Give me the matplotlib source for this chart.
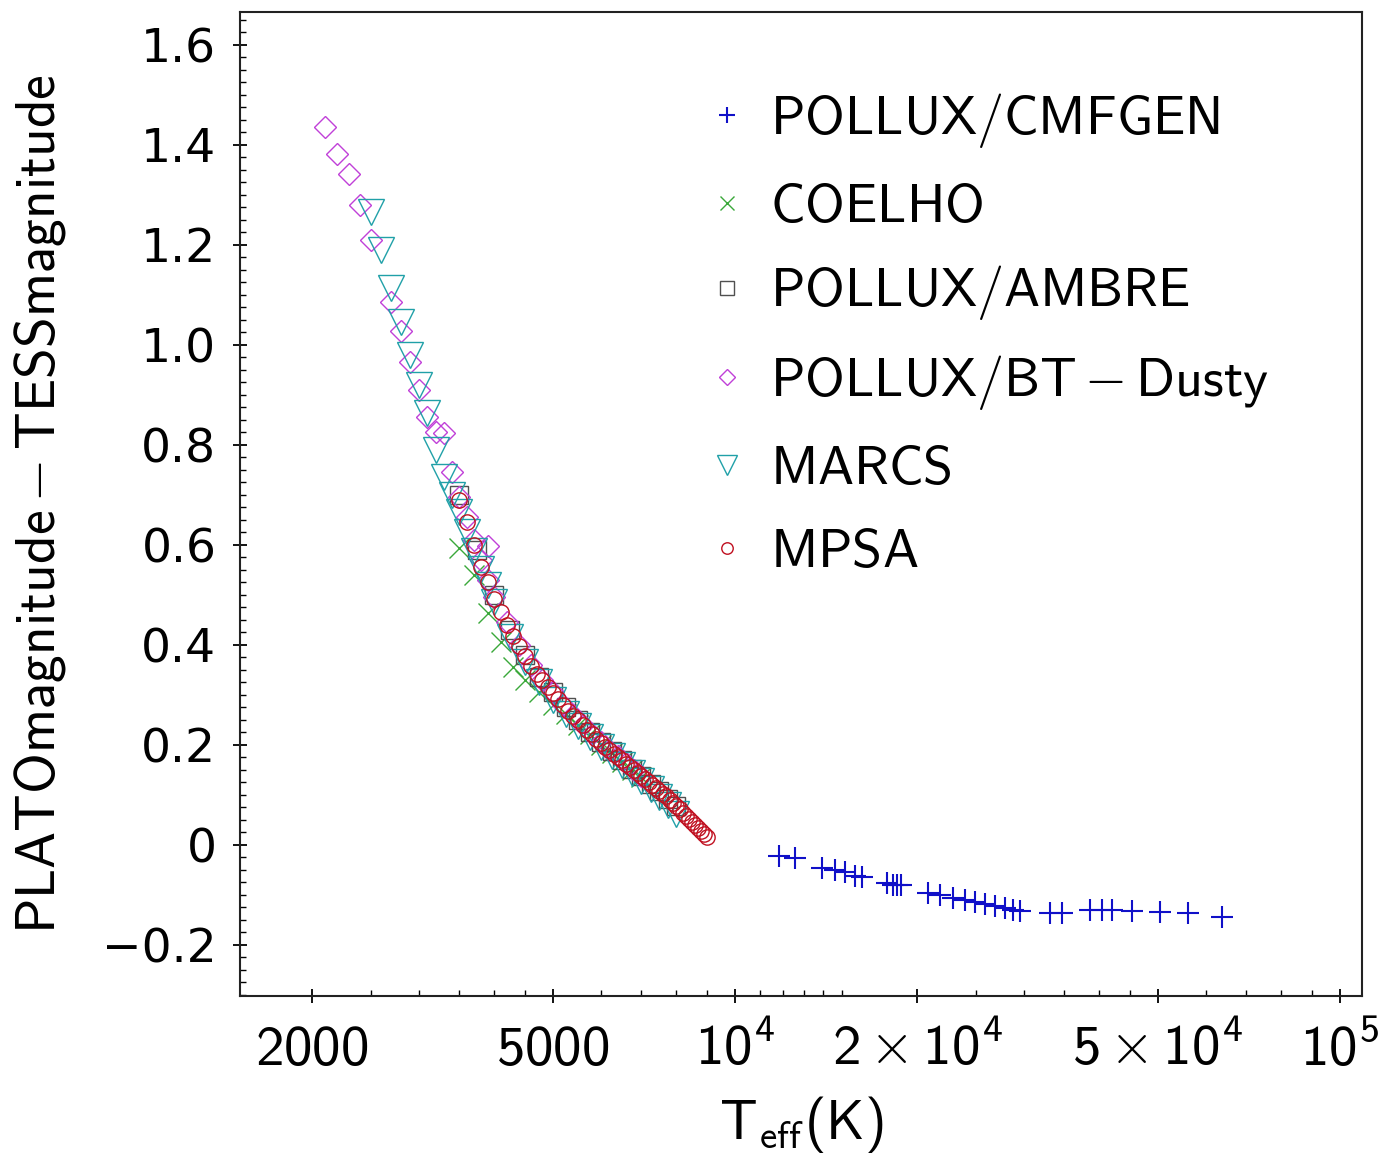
import numpy as np
import matplotlib
matplotlib.use("Agg")
import matplotlib.pyplot as plt
from matplotlib.ticker import FixedLocator, FixedFormatter

plt.rcParams['mathtext.fontset'] = 'custom'
plt.rcParams['mathtext.rm'] = 'cmss10'
plt.rcParams['mathtext.sf'] = 'cmss10'
plt.rcParams['mathtext.it'] = 'cmss10'
plt.rcParams['mathtext.bf'] = 'cmss10'

# POLLUX/CMFGEN
t_cmfgen = [11820, 12570, 13930, 14640, 15200, 15790, 16220, 17830, 18250, 18530,
            18810, 20840, 21830, 22930, 24000, 24930, 25890, 26900, 27940, 28810,
            29590, 33170, 34720, 38630, 40430, 42000, 45310, 50400, 56080, 63830]
y_cmfgen = [-0.022, -0.026, -0.046, -0.050, -0.054, -0.062, -0.064, -0.076, -0.080, -0.080,
            -0.080, -0.096, -0.100, -0.106, -0.110, -0.114, -0.118, -0.122, -0.126, -0.130,
            -0.132, -0.136, -0.136, -0.130, -0.130, -0.130, -0.132, -0.134, -0.136, -0.144]

# COELHO
t_coelho = [3500, 3700, 3900, 4100, 4300, 4500, 4750, 5000, 5250, 5500,
            5750, 6000, 6250, 6500, 6750, 7000]
y_coelho = [0.594, 0.540, 0.464, 0.406, 0.356, 0.330, 0.305, 0.280, 0.262, 0.240,
            0.222, 0.200, 0.183, 0.166, 0.150, 0.135]

# POLLUX/AMBRE
t_ambre = [3500, 3750, 4000, 4250, 4500, 4750, 5000, 5250, 5500, 5750,
           6000, 6250, 6500, 6750, 7000, 7250, 7500, 7750, 8000]
y_ambre = [0.700, 0.590, 0.500, 0.430, 0.380, 0.335, 0.305, 0.275, 0.250, 0.225,
           0.205, 0.188, 0.170, 0.152, 0.138, 0.122, 0.108, 0.092, 0.078]

# POLLUX/BT-Dusty
t_btdusty = [2100, 2200, 2300, 2400, 2500, 2700, 2800, 2900, 3000, 3100,
             3200, 3300, 3400, 3500, 3600, 3700, 3800, 3900, 3900, 4000,
             4200, 4400, 4600, 4800, 5000, 5200, 5400, 5600, 5800, 6000,
             6200, 6400, 6600, 6800, 7000]
y_btdusty = [1.436, 1.382, 1.342, 1.280, 1.210, 1.086, 1.028, 0.966, 0.910, 0.856,
             0.826, 0.824, 0.745, 0.695, 0.655, 0.610, 0.570, 0.598, 0.530, 0.495,
             0.445, 0.400, 0.360, 0.330, 0.305, 0.280, 0.260, 0.240, 0.222, 0.205,
             0.190, 0.178, 0.163, 0.150, 0.138]

# MARCS
t_marcs = [2500, 2600, 2700, 2800, 2900, 3000, 3100, 3200, 3300, 3400,
           3500, 3600, 3700, 3800, 3900, 4000, 4250, 4500, 4750, 5000,
           5250, 5500, 5750, 6000, 6250, 6500, 6750, 7000, 7250, 7500,
           7750, 8000]
y_marcs = [1.266, 1.190, 1.114, 1.046, 0.980, 0.920, 0.864, 0.790, 0.736, 0.700,
           0.665, 0.625, 0.588, 0.552, 0.520, 0.485, 0.415, 0.365, 0.325, 0.290,
           0.262, 0.238, 0.216, 0.196, 0.178, 0.160, 0.144, 0.128, 0.112, 0.096,
           0.080, 0.062]

# MPSA
t_mpsa = [3500, 3600, 3700, 3800, 3900, 4000, 4100, 4200, 4300, 4400,
          4500, 4600, 4700, 4800, 4900, 5000, 5100, 5200, 5300, 5400,
          5500, 5600, 5700, 5800, 5900, 6000, 6100, 6200, 6300, 6400,
          6500, 6600, 6700, 6800, 6900, 7000, 7100, 7200, 7300, 7400,
          7500, 7600, 7700, 7800, 7900, 8000, 8100, 8200, 8300, 8400,
          8500, 8600, 8700, 8800, 8900, 9000]
y_mpsa = [0.690, 0.646, 0.600, 0.556, 0.526, 0.492, 0.465, 0.440, 0.418, 0.397,
          0.378, 0.358, 0.342, 0.329, 0.316, 0.303, 0.291, 0.279, 0.268, 0.258,
          0.249, 0.239, 0.230, 0.221, 0.212, 0.203, 0.196, 0.189, 0.182, 0.176,
          0.169, 0.162, 0.156, 0.149, 0.143, 0.137, 0.131, 0.125, 0.120, 0.114,
          0.108, 0.102, 0.097, 0.090, 0.084, 0.077, 0.071, 0.064, 0.058, 0.052,
          0.046, 0.040, 0.034, 0.028, 0.022, 0.016]

fig = plt.figure(figsize=(13.79, 11.62), dpi=100)
ax = fig.add_axes([240 / 1379, 1 - 996 / 1162, 1122 / 1379, 984 / 1162])

mew = 1.0
ax.plot(t_cmfgen, y_cmfgen, ls='none', marker='+', ms=16, mew=1.5, color='#1010c8',
        label=r'$\mathrm{POLLUX/CMFGEN}$')
ax.plot(t_coelho, y_coelho, ls='none', marker='x', ms=14, mew=mew, color='#3aa83a',
        label=r'$\mathrm{COELHO}$')
ax.plot(t_ambre, y_ambre, ls='none', marker='s', ms=13, mew=mew, mfc='none', color='#505050',
        label=r'$\mathrm{POLLUX/AMBRE}$')
ax.plot(t_btdusty, y_btdusty, ls='none', marker='D', ms=11, mew=mew, mfc='none', color='#c040d8',
        label=r'$\mathrm{POLLUX/BT - Dusty}$')
ax.plot(t_marcs, y_marcs, ls='none', marker='v', ms=19, mew=mew, mfc='none', color='#20a0a8',
        label=r'$\mathrm{MARCS}$')
ax.plot(t_mpsa, y_mpsa, ls='none', marker='o', ms=11, mew=mew, mfc='none', color='#c01020',
        label=r'$\mathrm{MPSA}$')

ax.set_xscale('log')
ax.set_xlim(1520, 108700)
ax.set_ylim(-0.302, 1.666)

xmajor = [2000, 5000, 10000, 20000, 50000, 100000]
xlabels = [r'$\mathrm{2000}$', r'$\mathrm{5000}$', r'$\mathrm{10^4}$',
           r'$\mathrm{2\times10^4}$', r'$\mathrm{5\times10^4}$', r'$\mathrm{10^5}$']
xminor = [2500, 3000, 3500, 4000, 4500, 6000, 7000, 8000, 9000,
          11000, 12000, 13000, 14000, 15000, 25000, 30000, 35000, 40000, 45000,
          60000, 70000, 80000, 90000]
ax.xaxis.set_major_locator(FixedLocator(xmajor))
ax.xaxis.set_major_formatter(FixedFormatter(xlabels))
ax.xaxis.set_minor_locator(FixedLocator(xminor))
ax.xaxis.set_minor_formatter(FixedFormatter([''] * len(xminor)))

ymajor = [-0.2, 0, 0.2, 0.4, 0.6, 0.8, 1.0, 1.2, 1.4, 1.6]
ylabels = ['\u22120.2', '0', '0.2', '0.4', '0.6', '0.8', '1.0', '1.2', '1.4', '1.6']
ax.yaxis.set_major_locator(FixedLocator(ymajor))
ax.yaxis.set_major_formatter(FixedFormatter(ylabels))
ax.yaxis.set_minor_locator(FixedLocator(np.arange(-0.3, 1.67, 0.025)))

ax.tick_params(which='major', direction='inout', length=10, width=1.3, top=False, right=False)
ax.tick_params(which='minor', direction='in', length=4, width=1.0, top=False, right=False)
ax.tick_params(axis='y', which='major', labelsize=34, pad=12)
ax.tick_params(axis='x', which='major', labelsize=41, pad=14)
for lab in ax.get_yticklabels():
    lab.set_fontfamily('DejaVu Sans')
for sp in ax.spines.values():
    sp.set_linewidth(1.5)
    sp.set_color('#222222')

ax.set_xlabel(r'$\mathrm{T_{eff}(K)}$', fontsize=40, labelpad=12)
ax.set_ylabel(r'$\mathrm{PLATOmagnitude - TESSmagnitude}$', fontsize=40, labelpad=24)

ax.legend(loc='upper left', bbox_to_anchor=(0.41, 0.92), frameon=False, fontsize=39,
          markerscale=0.75, handlelength=1.0, handletextpad=0.3, borderpad=0,
          labelspacing=0.57, borderaxespad=0)

fig.savefig('out.png', dpi=100)
